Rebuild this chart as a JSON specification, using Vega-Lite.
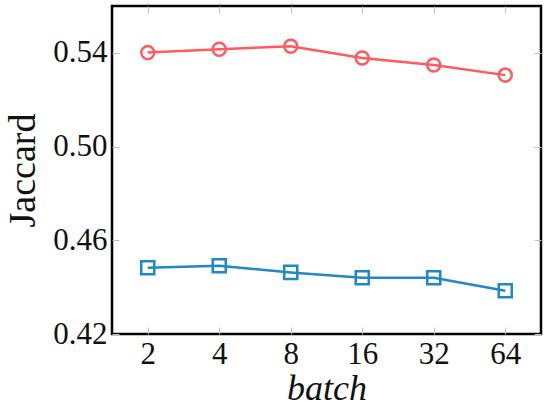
{
  "$schema": "https://vega.github.io/schema/vega-lite/v6.json",
  "autosize": "none",
  "padding": {"left": 112, "top": 6, "right": 8, "bottom": 76},
  "width": 429,
  "height": 328,
  "background": "white",
  "config": {
    "view": {"stroke": "black", "strokeWidth": 2.5},
    "font": "Liberation Serif",
    "axis": {
      "grid": false,
      "domain": false,
      "labelFont": "Liberation Serif",
      "labelFontSize": 31,
      "labelColor": "#111",
      "tickColor": "#c0c0c0",
      "tickWidth": 1,
      "titleFont": "Liberation Serif",
      "titleColor": "#111",
      "titleFontWeight": "normal"
    }
  },
  "data": {
    "values": [
      {"batch": "2", "method": "A", "jaccard": 0.5401},
      {"batch": "4", "method": "A", "jaccard": 0.5415},
      {"batch": "8", "method": "A", "jaccard": 0.5428},
      {"batch": "16", "method": "A", "jaccard": 0.5378},
      {"batch": "32", "method": "A", "jaccard": 0.5348},
      {"batch": "64", "method": "A", "jaccard": 0.5305},
      {"batch": "2", "method": "B", "jaccard": 0.4483},
      {"batch": "4", "method": "B", "jaccard": 0.4491},
      {"batch": "8", "method": "B", "jaccard": 0.4463},
      {"batch": "16", "method": "B", "jaccard": 0.4440},
      {"batch": "32", "method": "B", "jaccard": 0.4440},
      {"batch": "64", "method": "B", "jaccard": 0.4385}
    ]
  },
  "encoding": {
    "x": {"field": "batch", "type": "ordinal", "sort": ["2", "4", "8", "16", "32", "64"],
          "scale": {"type": "point", "padding": 0.5}},
    "y": {"field": "jaccard", "type": "quantitative", "scale": {"domain": [0.42, 0.56], "nice": false, "zero": false}},
    "color": {"field": "method", "type": "nominal", "legend": null,
              "scale": {"domain": ["A", "B"], "range": ["#FF5A5F", "#1E88C8"]}}
  },
  "layer": [
    {
      "mark": {"type": "line", "strokeWidth": 2.5},
      "encoding": {
        "x": {"field": "batch", "type": "ordinal", "sort": ["2", "4", "8", "16", "32", "64"],
              "axis": {"orient": "bottom", "tickSize": -7, "labelPadding": 12, "labelAngle": 0,
                       "title": "batch", "titleFontSize": 36, "titleFontStyle": "italic", "titlePadding": 2}},
        "y": {"field": "jaccard", "type": "quantitative",
              "axis": {"orient": "left", "tickSize": -7, "labelPadding": 12, "values": [0.42, 0.46, 0.5, 0.54],
                       "format": ".2f", "title": "Jaccard", "titleFontSize": 38, "titlePadding": 10}}
      }
    },
    {
      "mark": {"type": "point", "filled": false, "strokeWidth": 2.5, "opacity": 1},
      "encoding": {
        "shape": {"field": "method", "type": "nominal", "legend": null,
                  "scale": {"domain": ["A", "B"], "range": ["circle", "square"]}},
        "size": {"value": 170},
        "x": {"field": "batch", "type": "ordinal", "sort": ["2", "4", "8", "16", "32", "64"],
              "axis": {"orient": "top", "tickSize": -7, "labels": false, "title": null}},
        "y": {"field": "jaccard", "type": "quantitative",
              "axis": {"orient": "right", "tickSize": -7, "labels": false, "title": null, "values": [0.42, 0.46, 0.5, 0.54]}}
      }
    }
  ],
  "resolve": {"axis": {"x": "independent", "y": "independent"}}
}
